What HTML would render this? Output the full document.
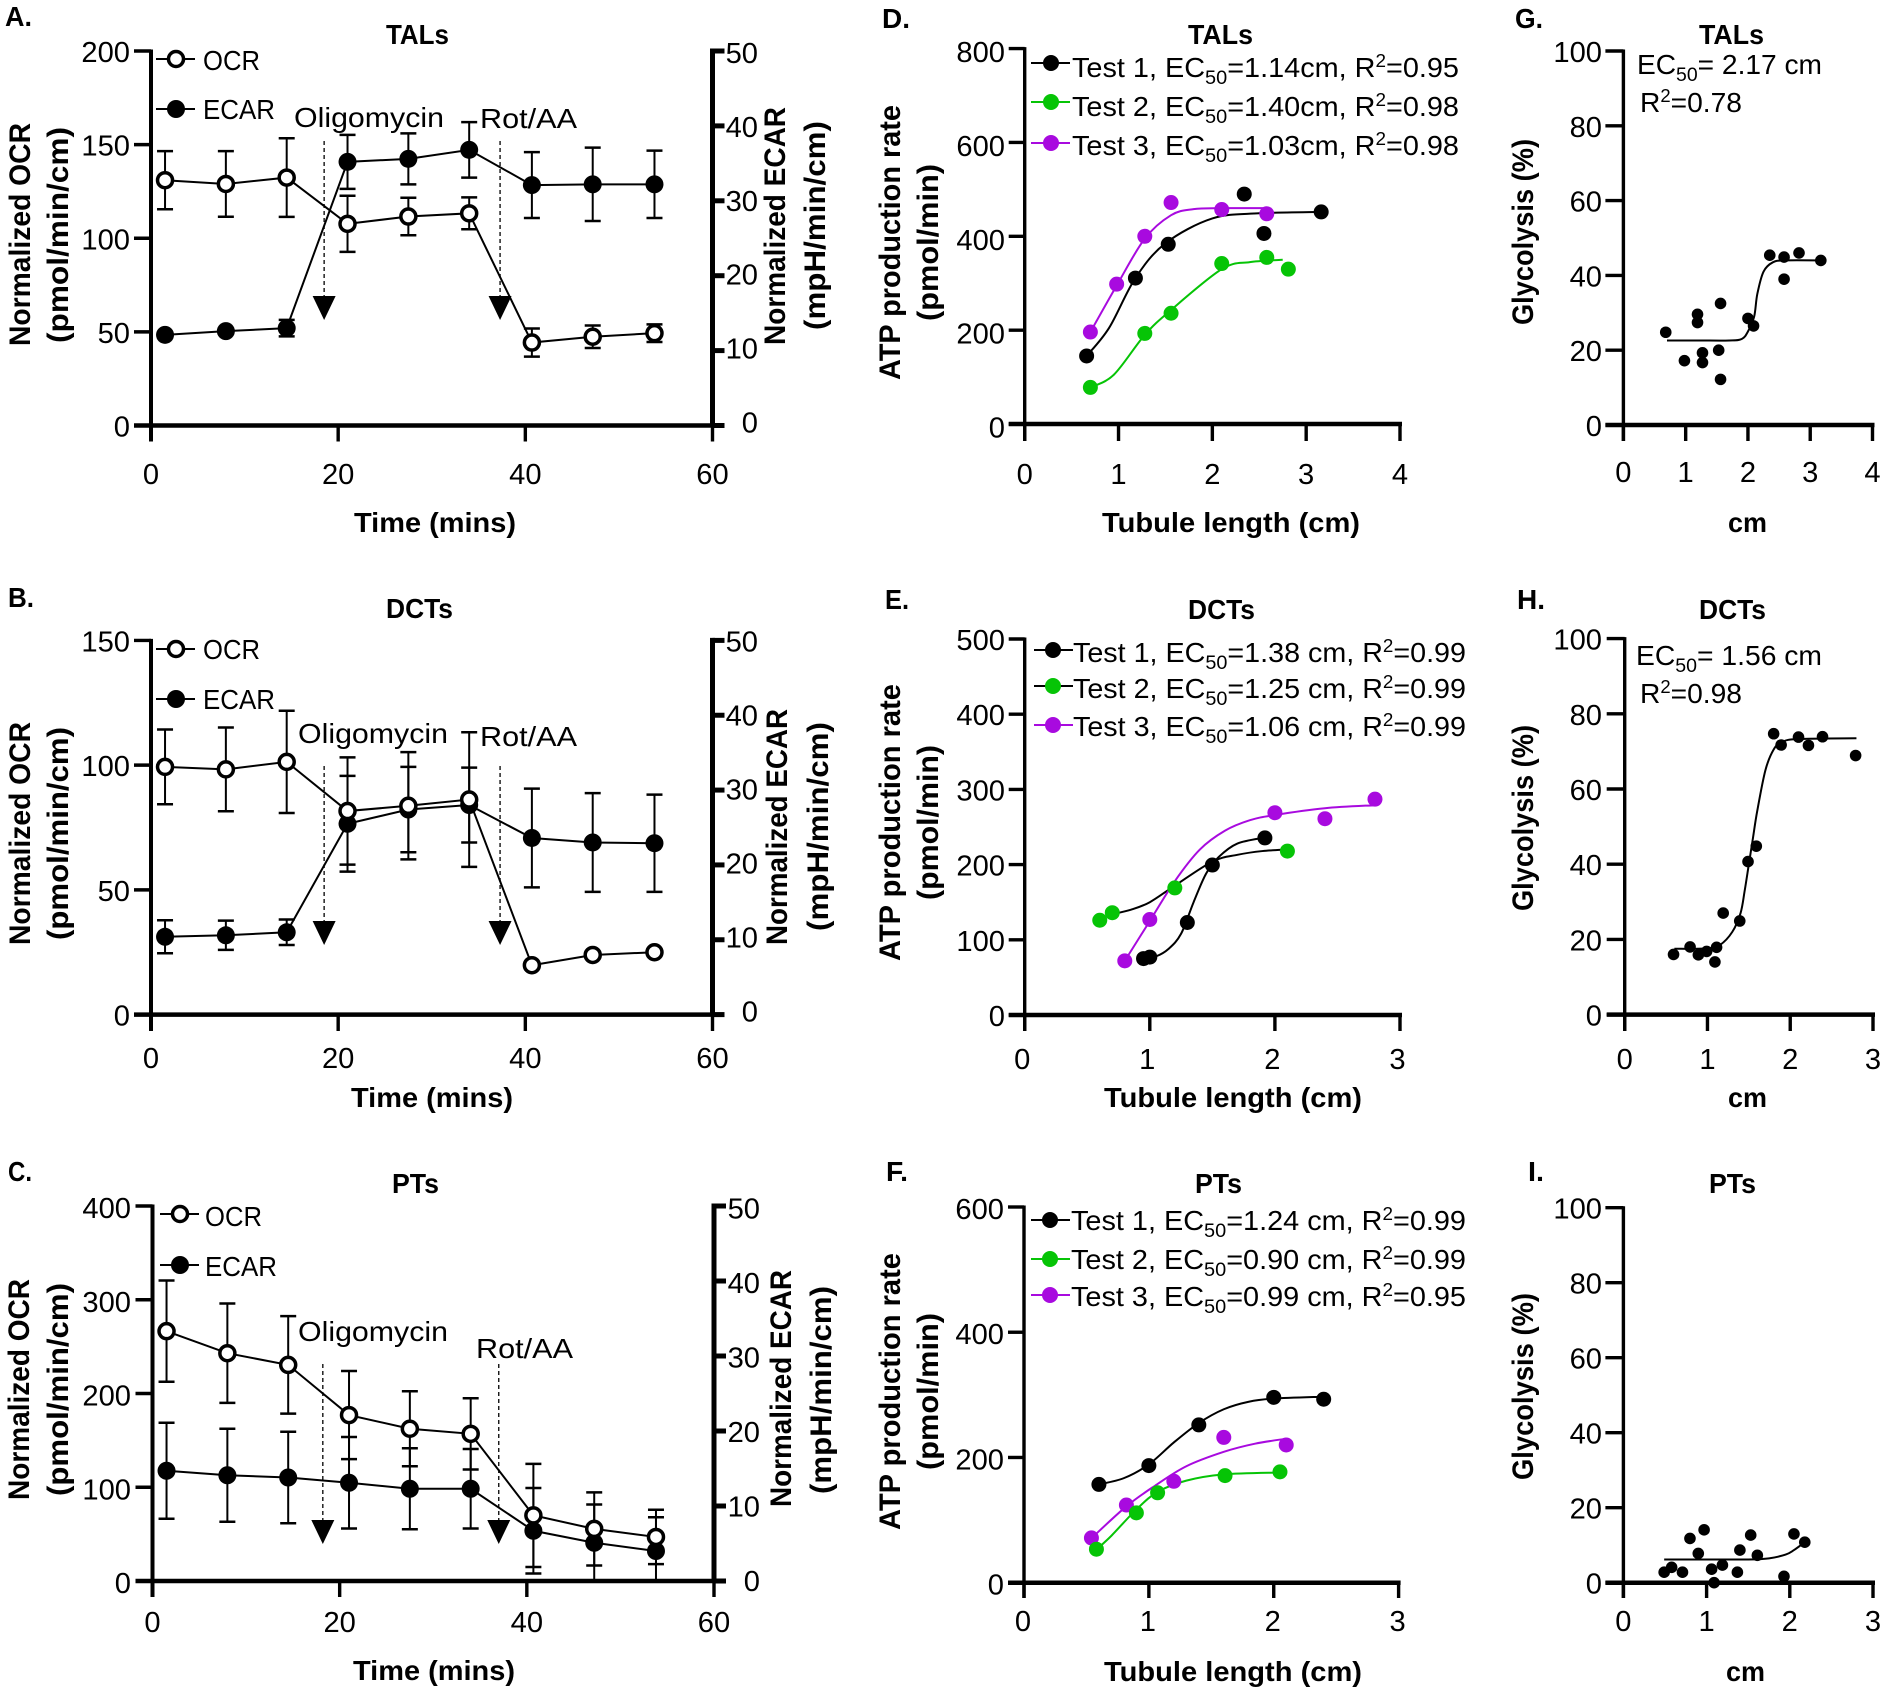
<!DOCTYPE html>
<html lang="en">
<head>
<meta charset="utf-8">
<title>Metabolic profile of tubule segments</title>
<style>
html,body{margin:0;padding:0;background:#fff;}
svg{display:block;}
text{font-family:"Liberation Sans",sans-serif;font-size:27.5px;fill:#000;}
.b{font-weight:bold;}
.yt{font-weight:bold;font-size:30px;}
.tick{font-size:28.5px;}
</style>
</head>
<body>
<svg id="figure" xmlns="http://www.w3.org/2000/svg" width="1885" height="1693" viewBox="0 0 1885 1693">
<rect width="1885" height="1693" fill="#fff"/>
<g id="marks"></g>

<!-- Panel letters -->
<text class="b" x="5" y="26" textLength="27" lengthAdjust="spacingAndGlyphs">A.</text>
<text class="b" x="8" y="607" textLength="26" lengthAdjust="spacingAndGlyphs">B.</text>
<text class="b" x="8" y="1181" textLength="24" lengthAdjust="spacingAndGlyphs">C.</text>
<text class="b" x="882" y="28" textLength="28" lengthAdjust="spacingAndGlyphs">D.</text>
<text class="b" x="885" y="609" textLength="24" lengthAdjust="spacingAndGlyphs">E.</text>
<text class="b" x="886" y="1181" textLength="22" lengthAdjust="spacingAndGlyphs">F.</text>
<text class="b" x="1515" y="28" textLength="28" lengthAdjust="spacingAndGlyphs">G.</text>
<text class="b" x="1517" y="609" textLength="28" lengthAdjust="spacingAndGlyphs">H.</text>
<text class="b" x="1528" y="1181" textLength="16" lengthAdjust="spacingAndGlyphs">I.</text>

<!-- Titles -->
<text class="b" x="386" y="44" textLength="63" lengthAdjust="spacingAndGlyphs">TALs</text>
<text class="b" x="386" y="618" textLength="67" lengthAdjust="spacingAndGlyphs">DCTs</text>
<text class="b" x="392" y="1193" textLength="47" lengthAdjust="spacingAndGlyphs">PTs</text>
<text class="b" x="1188" y="44" textLength="65" lengthAdjust="spacingAndGlyphs">TALs</text>
<text class="b" x="1188" y="619" textLength="67" lengthAdjust="spacingAndGlyphs">DCTs</text>
<text class="b" x="1195" y="1193" textLength="47" lengthAdjust="spacingAndGlyphs">PTs</text>
<text class="b" x="1699" y="44" textLength="65" lengthAdjust="spacingAndGlyphs">TALs</text>
<text class="b" x="1699" y="619" textLength="67" lengthAdjust="spacingAndGlyphs">DCTs</text>
<text class="b" x="1709" y="1193" textLength="47" lengthAdjust="spacingAndGlyphs">PTs</text>

<!-- X axis titles -->
<text class="b" x="354" y="532" textLength="162" lengthAdjust="spacingAndGlyphs">Time (mins)</text>
<text class="b" x="351" y="1107" textLength="162" lengthAdjust="spacingAndGlyphs">Time (mins)</text>
<text class="b" x="353" y="1680" textLength="162" lengthAdjust="spacingAndGlyphs">Time (mins)</text>
<text class="b" x="1102" y="532" textLength="258" lengthAdjust="spacingAndGlyphs">Tubule length (cm)</text>
<text class="b" x="1104" y="1107" textLength="258" lengthAdjust="spacingAndGlyphs">Tubule length (cm)</text>
<text class="b" x="1104" y="1681" textLength="258" lengthAdjust="spacingAndGlyphs">Tubule length (cm)</text>
<text class="b" x="1728" y="532" textLength="39" lengthAdjust="spacingAndGlyphs">cm</text>
<text class="b" x="1728" y="1107" textLength="39" lengthAdjust="spacingAndGlyphs">cm</text>
<text class="b" x="1726" y="1681" textLength="39" lengthAdjust="spacingAndGlyphs">cm</text>

<!-- Y axis titles -->
<text class="yt" transform="translate(30,346) rotate(-90)" textLength="223" lengthAdjust="spacingAndGlyphs">Normalized OCR</text>
<text class="yt" transform="translate(68,343) rotate(-90)" textLength="216" lengthAdjust="spacingAndGlyphs">(pmol/min/cm)</text>
<text class="yt" transform="translate(785,345) rotate(-90)" textLength="238" lengthAdjust="spacingAndGlyphs">Normalized ECAR</text>
<text class="yt" transform="translate(825,330) rotate(-90)" textLength="209" lengthAdjust="spacingAndGlyphs">(mpH/min/cm)</text>

<text class="yt" transform="translate(30,945) rotate(-90)" textLength="223" lengthAdjust="spacingAndGlyphs">Normalized OCR</text>
<text class="yt" transform="translate(68,940) rotate(-90)" textLength="213" lengthAdjust="spacingAndGlyphs">(pmol/min/cm)</text>
<text class="yt" transform="translate(787,945) rotate(-90)" textLength="236" lengthAdjust="spacingAndGlyphs">Normalized ECAR</text>
<text class="yt" transform="translate(828,931) rotate(-90)" textLength="209" lengthAdjust="spacingAndGlyphs">(mpH/min/cm)</text>

<text class="yt" transform="translate(29,1500) rotate(-90)" textLength="221" lengthAdjust="spacingAndGlyphs">Normalized OCR</text>
<text class="yt" transform="translate(68,1496) rotate(-90)" textLength="213" lengthAdjust="spacingAndGlyphs">(pmol/min/cm)</text>
<text class="yt" transform="translate(791,1507) rotate(-90)" textLength="237" lengthAdjust="spacingAndGlyphs">Normalized ECAR</text>
<text class="yt" transform="translate(831,1494) rotate(-90)" textLength="208" lengthAdjust="spacingAndGlyphs">(mpH/min/cm)</text>

<text class="yt" transform="translate(900,380) rotate(-90)" textLength="275" lengthAdjust="spacingAndGlyphs">ATP production rate</text>
<text class="yt" transform="translate(938,321) rotate(-90)" textLength="157" lengthAdjust="spacingAndGlyphs">(pmol/min)</text>
<text class="yt" transform="translate(900,961) rotate(-90)" textLength="277" lengthAdjust="spacingAndGlyphs">ATP production rate</text>
<text class="yt" transform="translate(938,900) rotate(-90)" textLength="155" lengthAdjust="spacingAndGlyphs">(pmol/min)</text>
<text class="yt" transform="translate(900,1530) rotate(-90)" textLength="277" lengthAdjust="spacingAndGlyphs">ATP production rate</text>
<text class="yt" transform="translate(938,1470) rotate(-90)" textLength="157" lengthAdjust="spacingAndGlyphs">(pmol/min)</text>

<text class="yt" transform="translate(1533,325) rotate(-90)" textLength="186" lengthAdjust="spacingAndGlyphs">Glycolysis (%)</text>
<text class="yt" transform="translate(1533,911) rotate(-90)" textLength="186" lengthAdjust="spacingAndGlyphs">Glycolysis (%)</text>
<text class="yt" transform="translate(1533,1480) rotate(-90)" textLength="187" lengthAdjust="spacingAndGlyphs">Glycolysis (%)</text>

<!-- Seahorse annotations -->
<text x="294" y="127" textLength="150" lengthAdjust="spacingAndGlyphs">Oligomycin</text>
<text x="480" y="128" textLength="97" lengthAdjust="spacingAndGlyphs">Rot/AA</text>
<text x="298" y="743" textLength="150" lengthAdjust="spacingAndGlyphs">Oligomycin</text>
<text x="480" y="746" textLength="97" lengthAdjust="spacingAndGlyphs">Rot/AA</text>
<text x="298" y="1341" textLength="150" lengthAdjust="spacingAndGlyphs">Oligomycin</text>
<text x="476" y="1358" textLength="97" lengthAdjust="spacingAndGlyphs">Rot/AA</text>

<!-- Seahorse legends -->
<g>
<line x1="156" x2="195" y1="59" y2="59" stroke="#000" stroke-width="2"/><circle cx="176" cy="59" r="7.5" fill="#fff" stroke="#000" stroke-width="3.5"/>
<line x1="156" x2="195" y1="109" y2="109" stroke="#000" stroke-width="2"/><circle cx="176" cy="109" r="9" fill="#000"/>
<text x="203" y="70" textLength="57" lengthAdjust="spacingAndGlyphs">OCR</text>
<text x="203" y="119" textLength="72" lengthAdjust="spacingAndGlyphs">ECAR</text>
</g>
<g>
<line x1="156" x2="195" y1="649" y2="649" stroke="#000" stroke-width="2"/><circle cx="176" cy="649" r="7.5" fill="#fff" stroke="#000" stroke-width="3.5"/>
<line x1="156" x2="195" y1="699" y2="699" stroke="#000" stroke-width="2"/><circle cx="176" cy="699" r="9" fill="#000"/>
<text x="203" y="659" textLength="57" lengthAdjust="spacingAndGlyphs">OCR</text>
<text x="203" y="709" textLength="72" lengthAdjust="spacingAndGlyphs">ECAR</text>
</g>
<g>
<line x1="160" x2="199" y1="1214" y2="1214" stroke="#000" stroke-width="2"/><circle cx="180" cy="1214" r="7.5" fill="#fff" stroke="#000" stroke-width="3.5"/>
<line x1="160" x2="199" y1="1265" y2="1265" stroke="#000" stroke-width="2"/><circle cx="180" cy="1265" r="9" fill="#000"/>
<text x="205" y="1226" textLength="57" lengthAdjust="spacingAndGlyphs">OCR</text>
<text x="205" y="1276" textLength="72" lengthAdjust="spacingAndGlyphs">ECAR</text>
</g>

<!-- Fit legends -->
<g>
<line x1="1031" x2="1070" y1="63" y2="63" stroke="#000" stroke-width="2"/><circle cx="1051" cy="63" r="8" fill="#000"/>
<line x1="1031" x2="1070" y1="102" y2="102" stroke="#06c406" stroke-width="2"/><circle cx="1051" cy="102" r="8" fill="#06c406"/>
<line x1="1031" x2="1070" y1="143" y2="143" stroke="#a80adf" stroke-width="2"/><circle cx="1051" cy="143" r="8" fill="#a80adf"/>
<text x="1072" y="77" textLength="387" lengthAdjust="spacingAndGlyphs">Test 1, EC<tspan font-size="19" dy="7">50</tspan><tspan dy="-7">=1.14cm, R</tspan><tspan font-size="18" dy="-10">2</tspan><tspan dy="10">=0.95</tspan></text>
<text x="1072" y="116" textLength="387" lengthAdjust="spacingAndGlyphs">Test 2, EC<tspan font-size="19" dy="7">50</tspan><tspan dy="-7">=1.40cm, R</tspan><tspan font-size="18" dy="-10">2</tspan><tspan dy="10">=0.98</tspan></text>
<text x="1072" y="155" textLength="387" lengthAdjust="spacingAndGlyphs">Test 3, EC<tspan font-size="19" dy="7">50</tspan><tspan dy="-7">=1.03cm, R</tspan><tspan font-size="18" dy="-10">2</tspan><tspan dy="10">=0.98</tspan></text>
</g>
<g>
<line x1="1034" x2="1073" y1="650" y2="650" stroke="#000" stroke-width="2"/><circle cx="1053" cy="650" r="8" fill="#000"/>
<line x1="1034" x2="1073" y1="686" y2="686" stroke="#000" stroke-width="2"/><circle cx="1053" cy="686" r="8" fill="#06c406"/>
<line x1="1034" x2="1073" y1="725" y2="725" stroke="#a80adf" stroke-width="2"/><circle cx="1053" cy="725" r="8" fill="#a80adf"/>
<text x="1073" y="662" textLength="393" lengthAdjust="spacingAndGlyphs">Test 1, EC<tspan font-size="19" dy="7">50</tspan><tspan dy="-7">=1.38 cm, R</tspan><tspan font-size="18" dy="-10">2</tspan><tspan dy="10">=0.99</tspan></text>
<text x="1073" y="698" textLength="393" lengthAdjust="spacingAndGlyphs">Test 2, EC<tspan font-size="19" dy="7">50</tspan><tspan dy="-7">=1.25 cm, R</tspan><tspan font-size="18" dy="-10">2</tspan><tspan dy="10">=0.99</tspan></text>
<text x="1073" y="736" textLength="393" lengthAdjust="spacingAndGlyphs">Test 3, EC<tspan font-size="19" dy="7">50</tspan><tspan dy="-7">=1.06 cm, R</tspan><tspan font-size="18" dy="-10">2</tspan><tspan dy="10">=0.99</tspan></text>
</g>
<g>
<line x1="1031" x2="1070" y1="1220" y2="1220" stroke="#000" stroke-width="2"/><circle cx="1050" cy="1220" r="8" fill="#000"/>
<line x1="1031" x2="1070" y1="1259" y2="1259" stroke="#06c406" stroke-width="2"/><circle cx="1050" cy="1259" r="8" fill="#06c406"/>
<line x1="1031" x2="1070" y1="1295" y2="1295" stroke="#a80adf" stroke-width="2"/><circle cx="1050" cy="1295" r="8" fill="#a80adf"/>
<text x="1071" y="1230" textLength="395" lengthAdjust="spacingAndGlyphs">Test 1, EC<tspan font-size="19" dy="7">50</tspan><tspan dy="-7">=1.24 cm, R</tspan><tspan font-size="18" dy="-10">2</tspan><tspan dy="10">=0.99</tspan></text>
<text x="1071" y="1269" textLength="395" lengthAdjust="spacingAndGlyphs">Test 2, EC<tspan font-size="19" dy="7">50</tspan><tspan dy="-7">=0.90 cm, R</tspan><tspan font-size="18" dy="-10">2</tspan><tspan dy="10">=0.99</tspan></text>
<text x="1071" y="1306" textLength="395" lengthAdjust="spacingAndGlyphs">Test 3, EC<tspan font-size="19" dy="7">50</tspan><tspan dy="-7">=0.99 cm, R</tspan><tspan font-size="18" dy="-10">2</tspan><tspan dy="10">=0.95</tspan></text>
</g>

<!-- Glycolysis fit annotations -->
<text x="1637" y="74" textLength="185" lengthAdjust="spacingAndGlyphs">EC<tspan font-size="19" dy="7">50</tspan><tspan dy="-7">= 2.17 cm</tspan></text>
<text x="1640" y="112" textLength="102" lengthAdjust="spacingAndGlyphs">R<tspan font-size="18" dy="-10">2</tspan><tspan dy="10">=0.78</tspan></text>
<text x="1636" y="665" textLength="186" lengthAdjust="spacingAndGlyphs">EC<tspan font-size="19" dy="7">50</tspan><tspan dy="-7">= 1.56 cm</tspan></text>
<text x="1640" y="703" textLength="102" lengthAdjust="spacingAndGlyphs">R<tspan font-size="18" dy="-10">2</tspan><tspan dy="10">=0.98</tspan></text>
</svg>

<script>
// ---------- Shared axis ticks ----------
const timeTicks = [0, 20, 40, 60];
const timePoints = [1.5, 8, 14.5, 21, 27.5, 34, 40.7, 47.2, 53.8];
const ecarTicks = [0, 10, 20, 30, 40, 50];
const glycolysisTicks = [0, 20, 40, 60, 80, 100];

// ---------- Panel A (TALs seahorse) ----------
const aLeftTicks = [0, 50, 100, 150, 200];
const aOcr = [131, 129, 132.4, 107.7, 111.6, 113.3, 44.3, 47.4, 49.3];
const aOcrErr = [15.5, 17.5, 21, 15, 10, 8.5, 7.5, 6, 4.7];
const aEcar = [12.1, 12.6, 13, 35.2, 35.6, 36.8, 32.1, 32.2, 32.2];
const aEcarErr = [0.3, 0.3, 1.1, 3.6, 3.4, 3.7, 4.4, 4.9, 4.5];
const aInjections = [18.5, 37.3];

// ---------- Panel B (DCTs seahorse) ----------
const bLeftTicks = [0, 50, 100, 150];
const bOcr = [99.3, 98.3, 101.3, 81.6, 83.7, 86.2, 19.8, 23.9, 25];
const bOcrErr = [15, 16.8, 20.5, 21.5, 21.5, 27, 0, 0, 0];
const bEcar = [10.4, 10.6, 11, 25.5, 27.4, 28, 23.6, 23, 22.9];
const bEcarErr = [2.2, 1.95, 1.7, 6.4, 5.7, 5, 6.6, 6.6, 6.5];
const bInjections = [18.5, 37.3];

// ---------- Panel C (PTs seahorse) ----------
const cLeftTicks = [0, 100, 200, 300, 400];
const cOcr = [266.5, 243, 230.5, 177, 162.4, 157, 70, 55.6, 47];
const cOcrErr = [54, 53, 52, 47, 40, 38, 55, 39, 29];
const cEcar = [14.7, 14.1, 13.8, 13.1, 12.3, 12.3, 6.7, 5.1, 4];
const cEcarErr = [6.4, 6.2, 6.1, 6.1, 5.4, 5.3, 5.7, 5.1, 4.5];
const cInjections = [18.2, 37];

// ---------- Panel D (TALs ATP vs length) ----------
const dXTicks = [0, 1, 2, 3, 4];
const dYTicks = [0, 200, 400, 600, 800];
const dT1X = [0.66, 1.18, 1.53, 2.34, 2.55, 3.16];
const dT1Y = [145, 311, 383, 490, 406, 452];
const dT2X = [0.70, 1.28, 1.56, 2.10, 2.58, 2.81];
const dT2Y = [78, 193, 236, 342, 355, 330];
const dT3X = [0.70, 0.98, 1.28, 1.56, 2.10, 2.58];
const dT3Y = [196, 298, 400, 472, 457, 448];
const dFit1X = [0.66, 0.9, 1.18, 1.5, 2.0, 2.5, 3.16];
const dFit1Y = [145, 205, 311, 385, 438, 449, 452];
const dFit2X = [0.7, 0.95, 1.28, 1.56, 2.1, 2.4, 2.75];
const dFit2Y = [78, 105, 190, 243, 330, 345, 350];
const dFit3X = [0.7, 0.98, 1.28, 1.56, 1.8, 2.1, 2.58];
const dFit3Y = [196, 295, 395, 445, 458, 460, 460];

// ---------- Panel E (DCTs ATP vs length) ----------
const eXTicks = [0, 1, 2, 3];
const eYTicks = [0, 100, 200, 300, 400, 500];
const eT1X = [0.95, 1.0, 1.30, 1.50, 1.92];
const eT1Y = [75, 77, 123, 199.4, 235.5];
const eT2X = [0.60, 0.70, 1.20, 2.10];
const eT2Y = [126, 136, 169, 218];
const eT3X = [0.80, 1.0, 2.0, 2.40, 2.80];
const eT3Y = [72, 127, 269, 261, 287];
const eFit1X = [0.95, 1.05, 1.15, 1.25, 1.35, 1.45, 1.55, 1.7, 1.92];
const eFit1Y = [75, 78, 88, 108, 150, 188, 210, 228, 236];
const eFit2X = [0.7, 0.85, 1.0, 1.2, 1.5, 1.7, 1.9, 2.1];
const eFit2Y = [134, 140, 150, 172, 204, 213, 218, 220];
const eFit3X = [0.8, 1.0, 1.2, 1.4, 1.6, 1.8, 2.0, 2.4, 2.8];
const eFit3Y = [72, 125, 178, 220, 245, 259, 266, 275, 279];

// ---------- Panel F (PTs ATP vs length) ----------
const fXTicks = [0, 1, 2, 3];
const fYTicks = [0, 200, 400, 600];
const fT1X = [0.60, 1.0, 1.40, 2.0, 2.40];
const fT1Y = [157, 187, 252, 296, 293];
const fT2X = [0.58, 0.90, 1.07, 1.61, 2.05];
const fT2Y = [53.5, 111.5, 143.6, 171, 177];
const fT3X = [0.54, 0.82, 1.20, 1.60, 2.10];
const fT3Y = [71.5, 124, 162, 232, 220];
const fFit1X = [0.6, 0.8, 1.0, 1.2, 1.4, 1.6, 1.8, 2.0, 2.4];
const fFit1Y = [157, 167, 189, 224, 255, 277, 289, 294, 297];
const fFit2X = [0.58, 0.7, 0.9, 1.07, 1.3, 1.6, 2.05];
const fFit2Y = [53, 75, 117, 145, 163, 173, 176];
const fFit3X = [0.54, 0.82, 1.05, 1.3, 1.6, 1.85, 2.1];
const fFit3Y = [71, 122, 155, 186, 209, 222, 230];

// ---------- Panel G (TALs glycolysis) ----------
const gXTicks = [0, 1, 2, 3, 4];
const gX = [0.68, 0.98, 1.19, 1.19, 1.27, 1.27, 1.53, 1.56, 1.56, 2.0, 2.09, 2.35, 2.58, 2.58, 2.82, 3.17];
const gY = [24.8, 17.2, 29.6, 27.4, 19.3, 16.7, 20, 32.5, 12.2, 28.5, 26.5, 45.4, 44.9, 39, 46, 44];
const gFitX = [0.7, 1.2, 1.7, 1.9, 2.0, 2.1, 2.15, 2.25, 2.4, 2.6, 3.17];
const gFitY = [22.6, 22.6, 22.6, 23, 25, 29, 35, 41, 43.5, 44, 44];

// ---------- Panel H (DCTs glycolysis) ----------
const hXTicks = [0, 1, 2, 3];
const hX = [0.59, 0.79, 0.89, 0.99, 1.09, 1.11, 1.19, 1.39, 1.49, 1.59, 1.8, 1.89, 2.1, 2.22, 2.39, 2.79];
const hY = [16, 18, 15.9, 16.8, 14, 17.9, 27, 24.9, 40.7, 44.8, 74.7, 71.7, 73.8, 71.6, 73.9, 68.9];
const hFitX = [0.6, 1.0, 1.15, 1.3, 1.4, 1.45, 1.5, 1.55, 1.6, 1.7, 1.8, 1.9, 2.1, 2.8];
const hFitY = [17.5, 17.6, 18.5, 22, 27, 33, 40, 47, 54, 65, 70.5, 72.5, 73.3, 73.5];

// ---------- Panel I (PTs glycolysis) ----------
const iXTicks = [0, 1, 2, 3];
const iX = [0.49, 0.58, 0.71, 0.80, 0.90, 0.97, 1.06, 1.09, 1.19, 1.37, 1.40, 1.53, 1.61, 1.93, 2.05, 2.18];
const iY = [2.8, 4.1, 2.8, 11.8, 7.8, 14.1, 3.6, 0, 4.7, 2.8, 8.7, 12.7, 7.3, 1.7, 13, 10.8];
const iFitX = [0.49, 1.0, 1.5, 1.75, 1.95, 2.05, 2.18];
const iFitY = [6.2, 6.2, 6.2, 6.5, 7.5, 8.7, 10.8];

const BLACK = '#000';
const GREEN = '#06c406';
const PURPLE = '#a80adf';
const SVGNS = 'http://www.w3.org/2000/svg';
const root = document.getElementById('marks');

function add(parent, tag, attrs, name) {
  const el = document.createElementNS(SVGNS, tag);
  for (const k in attrs) el.setAttribute(k, attrs[k]);
  
  
  parent.appendChild(el);
  return el;
}
function seg(g, x1, y1, x2, y2, w, name) {
  return add(g, 'line', {x1: x1, y1: y1, x2: x2, y2: y2, stroke: '#000', 'stroke-width': w}, name);
}
function label(g, str, x, y, anchor, name) {
  const w = String(str).length * 16.2;
  const sx = anchor === 'end' ? x - w : anchor === 'middle' ? x - w / 2 : x;
  const t = add(g, 'text', {x: sx, y: y, class: 'tick', textLength: w, lengthAdjust: 'spacingAndGlyphs'}, name);
  t.textContent = String(str);
  return t;
}
function scale(v0, p0, v1, p1) {
  return v => p0 + (v - v0) * (p1 - p0) / (v1 - v0);
}
function smoothPath(px, py) {
  let d = 'M' + px[0] + ' ' + py[0];
  for (let i = 0; i < px.length - 1; i++) {
    const i0 = Math.max(i - 1, 0), i3 = Math.min(i + 2, px.length - 1);
    const c1x = px[i] + (px[i + 1] - px[i0]) / 6, c1y = py[i] + (py[i + 1] - py[i0]) / 6;
    const c2x = px[i + 1] - (px[i3] - px[i]) / 6, c2y = py[i + 1] - (py[i3] - py[i]) / 6;
    d += ' C' + c1x + ' ' + c1y + ' ' + c2x + ' ' + c2y + ' ' + px[i + 1] + ' ' + py[i + 1];
  }
  return d;
}
function leftYAxis(g, L, ticks, y) {
  const w = L.axisW || 3.4;
  seg(g, L.x0, y(ticks[ticks.length - 1]) - 1.5, L.x0, L.tickBottom, w, 'y-axis-line');
  ticks.forEach(v => {
    seg(g, L.x0 - L.tickLen, y(v), L.x0, y(v), 3.4, 'y-axis-tick');
    label(g, v, L.labelEnd, y(v) + 11 + (L.labelDy || 0), 'end', 'y-axis-tick-label');
  });
}
function xAxis(g, L, ticks, x) {
  const last = ticks[ticks.length - 1];
  seg(g, x(0) - L.tickLen, L.y0, x(last) + (L.overrun || 2), L.y0, 4.5, 'x-axis-line');
  ticks.forEach(v => {
    seg(g, x(v), L.y0, x(v), L.tickBottom, 3.4, 'x-axis-tick');
    label(g, v, x(v) + (L.labelDx || 0), L.labelBase, 'middle', 'x-axis-tick-label');
  });
}

function drawSeries(g, xs, ys, errs, x, y, open, name) {
  const pts = xs.map((t, i) => x(t) + ',' + y(ys[i])).join(' ');
  add(g, 'polyline', {points: pts, fill: 'none', stroke: '#000', 'stroke-width': 2}, name + '-line');
  xs.forEach((t, i) => {
    if (!errs[i]) return;
    const px = x(t);
    const up = y(ys[i] + errs[i]);
    const lo = y(Math.max(0, ys[i] - errs[i]));
    seg(g, px, up, px, lo, 2, name + '-error-bar');
    seg(g, px - 8, up, px + 8, up, 2.5, name + '-error-cap');
    seg(g, px - 8, lo, px + 8, lo, 2.5, name + '-error-cap');
  });
  xs.forEach((t, i) => {
    if (open) {
      add(g, 'circle', {cx: x(t), cy: y(ys[i]), r: 7.5, fill: '#fff', stroke: '#000', 'stroke-width': 3.5}, name + '-point');
    } else {
      add(g, 'circle', {cx: x(t), cy: y(ys[i]), r: 9, fill: '#000'}, name + '-point');
    }
  });
}

function drawSeahorse(name, L, leftTicks, ocr, ocrErr, ecar, ecarErr, injections) {
  const g = add(root, 'g', {}, name);
  const x = scale(0, L.x0, 60, L.x60);
  const yL = scale(0, L.y0, leftTicks[leftTicks.length - 1], L.yTop);
  const yR = scale(0, L.y0, 50, L.yTop);
  leftYAxis(g, L, leftTicks, yL);
  xAxis(g, Object.assign({overrun: 11}, L), timeTicks, x);
  seg(g, L.x60, L.yTop - 2.5, L.x60, L.y0, 5, 'right-axis-line');
  ecarTicks.forEach(v => {
    seg(g, L.x60, yR(v), L.x60 + 12, yR(v), 5, 'right-axis-tick');
    label(g, v, L.rightLabelEnd, yR(v) + L.rightOffBottom + (L.rightOffTop - L.rightOffBottom) * v / 50, 'end', 'right-axis-tick-label');
  });
  injections.forEach(t => {
    add(g, 'line', {x1: x(t), x2: x(t), y1: L.dashTop, y2: L.triTop, stroke: '#000', 'stroke-width': 1.3, 'stroke-dasharray': '4 3'}, 'injection-dashed-line');
    const p = [[x(t) - 11.5, L.triTop], [x(t) + 11.5, L.triTop], [x(t), L.triTop + 24]].map(q => q.join(',')).join(' ');
    add(g, 'polygon', {points: p, fill: '#000'}, 'injection-arrow');
  });
  drawSeries(g, timePoints, ecar, ecarErr, x, yR, false, 'ecar');
  drawSeries(g, timePoints, ocr, ocrErr, x, yL, true, 'ocr');
}

function drawFit(g, fx, fy, x, y, color, name) {
  add(g, 'path', {d: smoothPath(fx.map(x), fy.map(y)), fill: 'none', stroke: color, 'stroke-width': 2}, name + '-fit-curve');
}
function drawDots(g, xs, ys, x, y, color, name, r) {
  xs.forEach((v, i) => {
    add(g, 'circle', {cx: x(v), cy: y(ys[i]), r: r, fill: color}, name + '-point');
  });
}

function drawAtpFrame(name, L, xTicks, yTicks) {
  const g = add(root, 'g', {}, name);
  const x = scale(0, L.x0, xTicks[xTicks.length - 1], L.x1);
  const y = scale(0, L.y0, yTicks[yTicks.length - 1], L.yTop);
  leftYAxis(g, L, yTicks, y);
  xAxis(g, L, xTicks, x);
  return {g: g, x: x, y: y};
}

// ---------- Draw seahorse panels ----------
drawSeahorse('panel-a-tals-seahorse', {x0: 151, x60: 712.5, y0: 425.5, yTop: 51, axisW: 4, tickLen: 17, tickBottom: 441.5, labelEnd: 130, labelBase: 484, rightLabelEnd: 758, rightOffTop: 12, rightOffBottom: 7, dashTop: 141, triTop: 296}, aLeftTicks, aOcr, aOcrErr, aEcar, aEcarErr, aInjections);
drawSeahorse('panel-b-dcts-seahorse', {x0: 151, x60: 712.5, y0: 1014.6, yTop: 640.4, axisW: 4, tickLen: 17, tickBottom: 1031, labelEnd: 130, labelBase: 1068, rightLabelEnd: 758, rightOffTop: 11, rightOffBottom: 7, dashTop: 766, triTop: 921}, bLeftTicks, bOcr, bOcrErr, bEcar, bEcarErr, bInjections);
drawSeahorse('panel-c-pts-seahorse', {x0: 152.5, x60: 714, y0: 1581, yTop: 1206, axisW: 4, tickLen: 17, tickBottom: 1597, labelEnd: 131, labelBase: 1632, labelDy: 1, rightLabelEnd: 760, rightOffTop: 12.5, rightOffBottom: 10, dashTop: 1364, triTop: 1520}, cLeftTicks, cOcr, cOcrErr, cEcar, cEcarErr, cInjections);

// ---------- Draw ATP panels ----------
const pd = drawAtpFrame('panel-d-tals-atp', {x0: 1024.7, x1: 1400, y0: 424, yTop: 48.6, tickLen: 16, tickBottom: 441, labelEnd: 1005, labelBase: 484, labelDy: 2.5}, dXTicks, dYTicks);
drawFit(pd.g, dFit1X, dFit1Y, pd.x, pd.y, BLACK, 'test-1');
drawFit(pd.g, dFit2X, dFit2Y, pd.x, pd.y, GREEN, 'test-2');
drawFit(pd.g, dFit3X, dFit3Y, pd.x, pd.y, PURPLE, 'test-3');
drawDots(pd.g, dT1X, dT1Y, pd.x, pd.y, BLACK, 'test-1', 7.5);
drawDots(pd.g, dT2X, dT2Y, pd.x, pd.y, GREEN, 'test-2', 7.5);
drawDots(pd.g, dT3X, dT3Y, pd.x, pd.y, PURPLE, 'test-3', 7.5);

const pe = drawAtpFrame('panel-e-dcts-atp', {x0: 1024.7, x1: 1400, y0: 1015, yTop: 639, tickLen: 16, tickBottom: 1031, labelEnd: 1005, labelBase: 1069, labelDx: -2.5}, eXTicks, eYTicks);
drawFit(pe.g, eFit1X, eFit1Y, pe.x, pe.y, BLACK, 'test-1');
drawFit(pe.g, eFit2X, eFit2Y, pe.x, pe.y, BLACK, 'test-2');
drawFit(pe.g, eFit3X, eFit3Y, pe.x, pe.y, PURPLE, 'test-3');
drawDots(pe.g, eT2X, eT2Y, pe.x, pe.y, GREEN, 'test-2', 7.5);
drawDots(pe.g, eT1X, eT1Y, pe.x, pe.y, BLACK, 'test-1', 7.5);
drawDots(pe.g, eT3X, eT3Y, pe.x, pe.y, PURPLE, 'test-3', 7.5);

const pf = drawAtpFrame('panel-f-pts-atp', {x0: 1024, x1: 1398.6, y0: 1582.7, yTop: 1207, tickLen: 16, tickBottom: 1598, labelEnd: 1004, labelBase: 1631, labelDy: 1, labelDx: -1}, fXTicks, fYTicks);
drawFit(pf.g, fFit1X, fFit1Y, pf.x, pf.y, BLACK, 'test-1');
drawFit(pf.g, fFit2X, fFit2Y, pf.x, pf.y, GREEN, 'test-2');
drawFit(pf.g, fFit3X, fFit3Y, pf.x, pf.y, PURPLE, 'test-3');
drawDots(pf.g, fT3X, fT3Y, pf.x, pf.y, PURPLE, 'test-3', 7.5);
drawDots(pf.g, fT2X, fT2Y, pf.x, pf.y, GREEN, 'test-2', 7.5);
drawDots(pf.g, fT1X, fT1Y, pf.x, pf.y, BLACK, 'test-1', 7.5);

// ---------- Draw glycolysis panels ----------
const pg = drawAtpFrame('panel-g-tals-glycolysis', {x0: 1623.4, x1: 1872.5, y0: 425, yTop: 51, tickLen: 18, tickBottom: 441, labelEnd: 1602, labelBase: 482}, gXTicks, glycolysisTicks);
drawFit(pg.g, gFitX, gFitY, pg.x, pg.y, BLACK, 'glycolysis');
drawDots(pg.g, gX, gY, pg.x, pg.y, BLACK, 'glycolysis', 5.8);

const ph = drawAtpFrame('panel-h-dcts-glycolysis', {x0: 1624.7, x1: 1873, y0: 1014.6, yTop: 638.6, tickLen: 18, tickBottom: 1031, labelEnd: 1602, labelBase: 1069}, hXTicks, glycolysisTicks);
drawFit(ph.g, hFitX, hFitY, ph.x, ph.y, BLACK, 'glycolysis');
drawDots(ph.g, hX, hY, ph.x, ph.y, BLACK, 'glycolysis', 5.8);

const pi = drawAtpFrame('panel-i-pts-glycolysis', {x0: 1623.4, x1: 1873, y0: 1582.7, yTop: 1207.7, tickLen: 18, tickBottom: 1598, labelEnd: 1602, labelBase: 1631}, iXTicks, glycolysisTicks);
drawFit(pi.g, iFitX, iFitY, pi.x, pi.y, BLACK, 'glycolysis');
drawDots(pi.g, iX, iY, pi.x, pi.y, BLACK, 'glycolysis', 5.8);
</script>
</body>
</html>
